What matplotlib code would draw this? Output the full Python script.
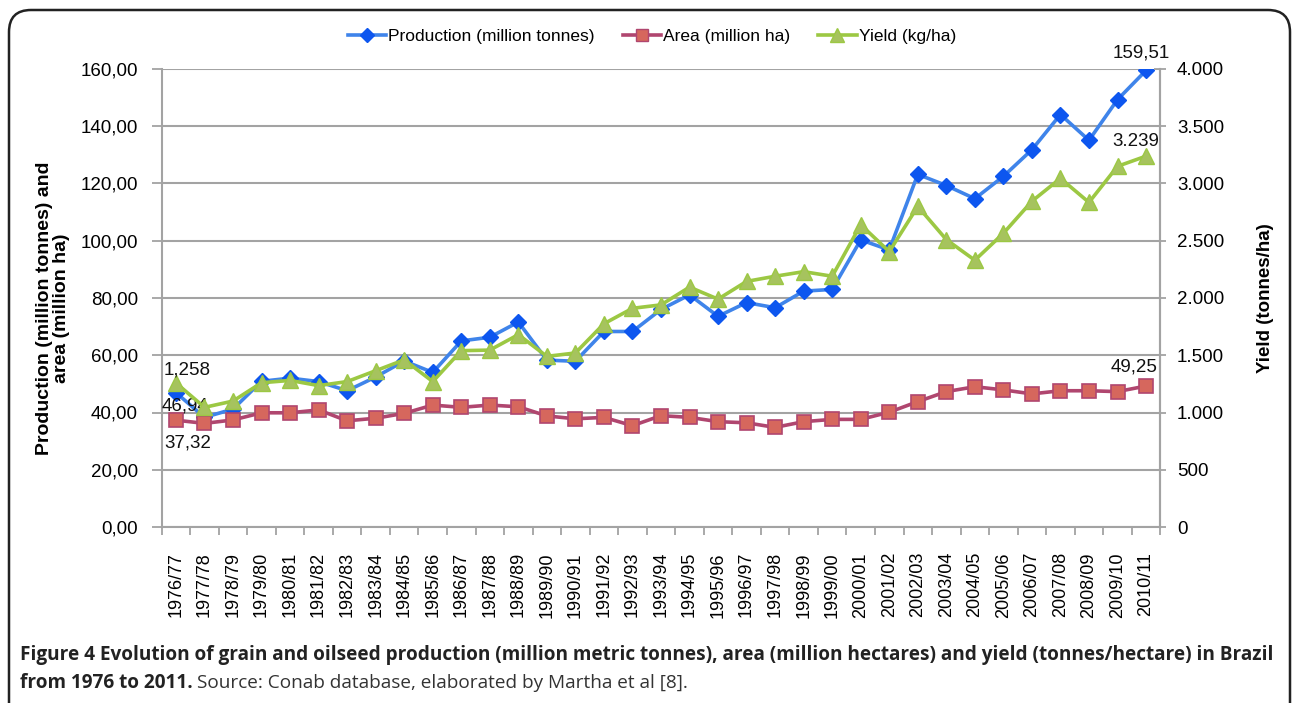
import matplotlib
matplotlib.use("Agg")
import matplotlib.pyplot as plt
from matplotlib.patches import FancyBboxPatch
from matplotlib.lines import Line2D
from matplotlib.transforms import IdentityTransform
import numpy as np

seasons = ["1976/77", "1977/78", "1978/79", "1979/80", "1980/81", "1981/82", "1982/83",
           "1983/84", "1984/85", "1985/86", "1986/87", "1987/88", "1988/89", "1989/90",
           "1990/91", "1991/92", "1992/93", "1993/94", "1994/95", "1995/96", "1996/97",
           "1997/98", "1998/99", "1999/00", "2000/01", "2001/02", "2002/03", "2003/04",
           "2004/05", "2005/06", "2006/07", "2007/08", "2008/09", "2009/10", "2010/11"]

production = [46.94, 38.3, 41.2, 50.9, 52.0, 50.8, 47.6, 52.4, 58.0, 54.0, 65.0, 66.3,
              71.6, 58.3, 57.9, 68.3, 68.3, 76.0, 81.1, 73.6, 78.4, 76.6, 82.4, 83.0,
              100.3, 96.8, 123.2, 119.3, 114.7, 122.5, 131.8, 144.1, 135.1, 149.3, 159.51]

area = [37.32, 36.2, 37.4, 39.9, 39.9, 40.9, 37.1, 38.0, 39.7, 42.6, 41.8, 42.6, 42.0,
        38.8, 37.8, 38.3, 35.4, 38.9, 38.3, 36.8, 36.4, 34.8, 36.8, 37.6, 37.6, 40.1,
        43.8, 47.3, 49.0, 47.9, 46.5, 47.6, 47.6, 47.3, 49.25]

yield_kg = [1258, 1045, 1100, 1260, 1280, 1235, 1270, 1365, 1460, 1270, 1540, 1545, 1680,
            1490, 1520, 1775, 1910, 1940, 2095, 1990, 2145, 2190, 2230, 2190, 2640, 2405,
            2800, 2510, 2330, 2565, 2845, 3045, 2835, 3150, 3239]

left_ticks = [0, 20, 40, 60, 80, 100, 120, 140, 160]
right_ticks = [0, 500, 1000, 1500, 2000, 2500, 3000, 3500, 4000]

plt.rcParams['font.family'] = ['Liberation Sans', 'DejaVu Sans']

W, H = 1292, 703
fig = plt.figure(figsize=(W / 100, H / 100), dpi=100)

# rounded frame
frame = FancyBboxPatch((9, -30), 1281, H - 10 + 30, boxstyle="round,pad=0,rounding_size=22",
                       transform=IdentityTransform(), fill=False, edgecolor="#222222",
                       linewidth=1.8, figure=fig)
fig.patches.append(frame)

ax_l, ax_r, ax_t, ax_b = 161.7, 1160.3, 69, 527
ax = fig.add_axes([ax_l / W, 1 - ax_b / H, (ax_r - ax_l) / W, (ax_b - ax_t) / H])
ax2 = ax.twinx()

x = np.arange(len(seasons))
grid_c = "#a3a3a3"

blue_line, blue_mk = "#3f84ea", "#0d56ef"
red_line, red_mk = "#b0466f", "#d6675d"
green_line, green_mk = "#9cc843", "#a6c35e"

ax.plot(x, production, color=blue_line, lw=2.6, marker="D", ms=8.5, mfc=blue_mk,
        mec=blue_mk, zorder=3)
ax.plot(x, area, color=red_line, lw=2.6, marker="s", ms=10.5, mfc=red_mk, mec=red_line,
        mew=1.2, zorder=3)
ax2.plot(x, yield_kg, color=green_line, lw=2.6, marker="^", ms=12, mfc=green_mk,
         mec=green_line, mew=1.0, zorder=3)

ax.set_xlim(-0.5, len(seasons) - 0.5)
ax.set_ylim(0, 160)
ax2.set_ylim(0, 4000)

ax.set_yticks(left_ticks)
ax.set_yticklabels([f"{v:.2f}".replace(".", ",") for v in left_ticks])
ax2.set_yticks(right_ticks)
ax2.set_yticklabels([f"{v:,}".replace(",", ".") for v in right_ticks])

ax.set_xticks(np.arange(-0.5, len(seasons), 1))
ax.set_xticklabels([])
ax.set_xticks(x, minor=True)
ax.set_xticklabels(seasons, minor=True, rotation=90, fontsize=13)
ax.tick_params(axis="x", which="major", length=6, width=1.3, color=grid_c, direction="out")
ax.tick_params(axis="x", which="minor", length=0, pad=18)
ax.tick_params(axis="y", length=7, width=1.3, color=grid_c, direction="out", labelsize=13.5, pad=10)
ax2.tick_params(axis="y", length=8, width=1.3, color=grid_c, direction="inout", labelsize=13.5, pad=8)

ax.yaxis.grid(True, color=grid_c, lw=1.5)
ax.set_axisbelow(True)
for s in ["left", "bottom", "right", "top"]:
    ax.spines[s].set_color(grid_c)
    ax.spines[s].set_linewidth(1.5)
ax.spines["top"].set_visible(False)
for s in ["left", "bottom", "top"]:
    ax2.spines[s].set_visible(False)
ax2.spines["right"].set_color(grid_c)
ax2.spines["right"].set_linewidth(1.5)

# data labels
lab_kw = dict(textcoords="offset pixels", ha="center", va="center", fontsize=13.5, color="#111111")
ax2.annotate(f"{yield_kg[0]/1000:.3f}".replace(".", ","), (x[0], yield_kg[0]), xytext=(11, 13), **lab_kw)
ax.annotate(f"{production[0]:.2f}".replace(".", ","), (x[0], production[0]), xytext=(9, -13), **lab_kw)
ax.annotate(f"{area[0]:.2f}".replace(".", ","), (x[0], area[0]), xytext=(12, -23), **lab_kw)
ax.annotate(f"{production[-1]:.2f}".replace(".", ","), (x[-1], production[-1]), xytext=(-5, 17), **lab_kw)
ax2.annotate(f"{yield_kg[-1]:,}".replace(",", "."), (x[-1], yield_kg[-1]), xytext=(-10, 15), **lab_kw)
ax.annotate(f"{area[-1]:.2f}".replace(".", ","), (x[-1], area[-1]), xytext=(-12, 19), **lab_kw)

# axis titles
fig.text(53 / W, 1 - 308 / H, "Production (million tonnes) and\narea (million ha)", rotation=90,
         ha="center", va="center", fontsize=14, fontweight="bold", linespacing=1.05,
         multialignment="center")
fig.text(1265 / W, 1 - 298 / H, "Yield (tonnes/ha)", rotation=90, ha="center", va="center",
         fontsize=13.5, fontweight="bold")

# legend
handles = [
    Line2D([], [], color=blue_line, lw=2.6, marker="D", ms=7, mfc=blue_mk, mec=blue_mk),
    Line2D([], [], color=red_line, lw=2.6, marker="s", ms=9, mfc=red_mk, mec=red_line),
    Line2D([], [], color=green_line, lw=2.6, marker="^", ms=10, mfc=green_mk, mec=green_line),
]
labels = ["Production (million tonnes)", "Area (million ha)", "Yield (kg/ha)"]
fig.legend(handles, labels, loc="center", bbox_to_anchor=(652 / W, 1 - 36 / H), ncol=3,
           frameon=False, fontsize=12.5, handlelength=2.2, handletextpad=0.15,
           columnspacing=1.6)

# caption
cap_font = ['Open Sans', 'DejaVu Sans']
line1 = ("Figure 4 Evolution of grain and oilseed production (million metric tonnes), area "
         "(million hectares) and yield (tonnes/hectare) in Brazil")
t1 = fig.text(20 / W, 1 - 655 / H, line1, ha="left", va="center", fontsize=14,
              fontweight="bold", family=cap_font, color="#222222")
renderer = fig.canvas.get_renderer()
w = t1.get_window_extent(renderer).width
fs = 14 * 1255 / w
t1.set_fontsize(fs)
t2 = fig.text(20 / W, 1 - 683 / H, "from 1976 to 2011.", ha="left", va="center", fontsize=fs,
              fontweight="bold", family=cap_font, color="#222222")
bb = t2.get_window_extent(renderer)
fig.text((bb.x1 + fs * 0.3) / W, 1 - 683 / H, "Source: Conab database, elaborated by Martha et al [8].",
         ha="left", va="center", fontsize=fs, family=cap_font, color="#333333")

fig.savefig("out.png", dpi=100)
